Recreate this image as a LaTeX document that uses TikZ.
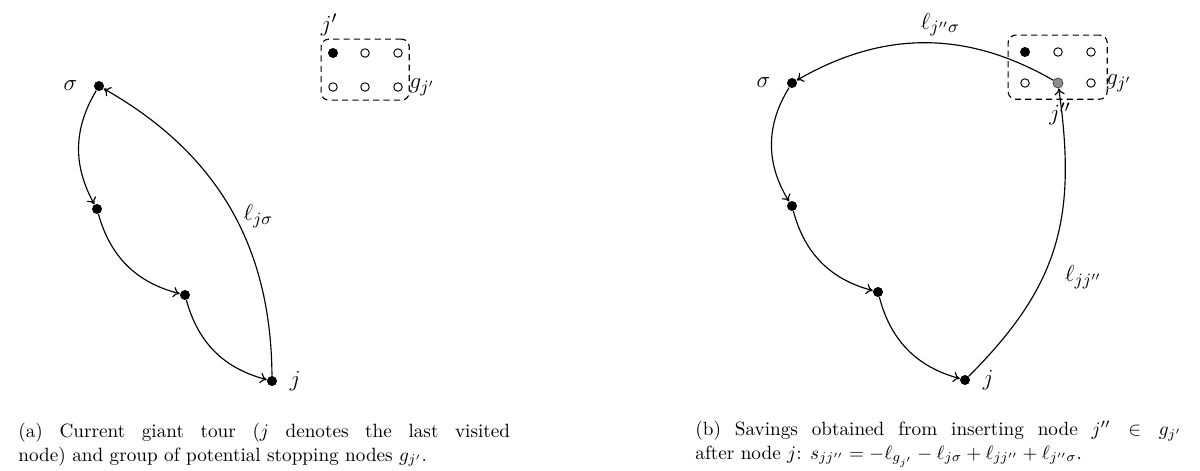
\documentclass[tikz,border=0pt]{standalone}
\usepackage{xcolor}
\usepackage{tikz}
\usetikzlibrary{arrows.meta, positioning, fit, calc}
\tikzstyle{arrow} = [line width=0.6pt,->,>={To[length=3.4pt,width=5.4pt]}]
\tikzstyle{tourdot} = [circle, fill=black, inner sep=0pt, minimum size=5.2pt]
\tikzstyle{opendot} = [circle, draw, line width=0.5pt, inner sep=0pt, minimum size=4.4pt]
\tikzstyle{group} = [draw, dash pattern=on 3.2pt off 2.2pt, rounded corners=4pt, line width=0.6pt]
\tikzstyle{lab} = [font=\fontsize{12.5}{15}\selectfont]
\tikzstyle{caption} = [anchor=north west, inner sep=0pt, align=justify, font=\fontsize{10}{12.1}\selectfont]

\begin{document}
\begin{tikzpicture}[x=0.0183cm, y=0.0183cm]
\useasboundingbox (0,0) rectangle (1200,470);

% (a) current giant tour
\node (sigmaA) [tourdot] at (99,384) {};
\node (tA2) [tourdot] at (97,261) {};
\node (tA3) [tourdot] at (185,175) {};
\node (jA) [tourdot] at (272,89) {};
\node (sigmaAlab) [lab, left=5pt of sigmaA] {$\sigma$};
\node (jAlab) [lab, right=3pt of jA] {$j$};

\draw [arrow] (sigmaA) to[bend right=30] (tA2);
\draw [arrow] (tA2) to[bend right=30] (tA3);
\draw [arrow] (tA3) to[bend right=30] (jA);
\draw [arrow] (jA) to[bend right=30] node[lab, pos=0.47, right=1pt] (ljsA) {$\ell_{j\sigma}$} (sigmaA);

% group g_j' (a)
\node (gA11) [tourdot] at (333,417) {};
\node (gA12) [opendot] at (365,417) {};
\node (gA13) [opendot] at (398,417) {};
\node (gA21) [opendot] at (333,383) {};
\node (gA22) [opendot] at (365,383) {};
\node (gA23) [opendot] at (398,383) {};
\node (groupA) [group, fit=(gA11)(gA23), inner xsep=3.4pt, inner ysep=4.4pt] {};
\node (jpA) [lab, above=2.5pt of gA11, xshift=-2pt] {$j'$};
\node (gjA) [lab, right=0pt of gA23] {$g_{j'}$};

% (b) savings from inserting j''
\node (sigmaB) [tourdot] at (792,387) {};
\node (tB2) [tourdot] at (792,264) {};
\node (tB3) [tourdot] at (878,178) {};
\node (jB) [tourdot] at (965,90) {};
\node (sigmaBlab) [lab, left=5pt of sigmaB] {$\sigma$};
\node (jBlab) [lab, right=3pt of jB] {$j$};

% group g_j' (b)
\node (gB11) [tourdot] at (1025,418) {};
\node (gB12) [opendot] at (1058,418) {};
\node (gB13) [opendot] at (1091,418) {};
\node (gB21) [opendot] at (1025,387) {};
\node (gB22) [tourdot, fill=black!45, draw=black!70, line width=0.4pt] at (1058,387) {};
\node (gB23) [opendot] at (1091,387) {};
\node (groupB) [group, fit=(gB11)(gB23), inner xsep=6pt, inner ysep=6pt] {};
\node (jppB) [lab, below=4pt of gB22, xshift=1pt] {$j''$};
\node (gjB) [lab, right=2pt of gB23] {$g_{j'}$};

\draw [arrow] (sigmaB) to[bend right=32] (tB2);
\draw [arrow] (tB2) to[bend right=30] (tB3);
\draw [arrow] (tB3) to[bend right=30] (jB);
\draw [arrow] (jB) to[out=45, in=-82, looseness=1.1] node[lab, pos=0.38, right=8pt] (ljjB) {$\ell_{jj''}$} (gB22);
\draw [arrow] (gB22) to[bend right=30] node[lab, pos=0.44, above=0pt] (ljsB) {$\ell_{j''\sigma}$} (sigmaB);

% captions
\node (capA) [caption, text width=256pt] at (18,47)
  {(a) Current giant tour ($j$ denotes the last visited\linebreak node) and group of potential stopping nodes $g_{j'}$.};
\node (capB) [caption, text width=253pt] at (695,49)
  {(b) Savings obtained from inserting node $j''\in g_{j'}$\linebreak after node $j$: $s_{jj''}=-\ell_{g_{j'}}-\ell_{j\sigma}+\ell_{jj''}+\ell_{j''\sigma}$.};
\end{tikzpicture}
\end{document}
